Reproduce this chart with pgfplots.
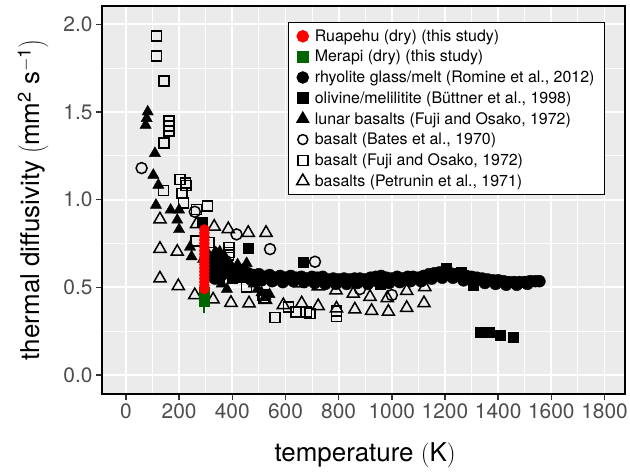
\documentclass[border=0pt]{standalone}
\usepackage{fontspec}
\setmainfont{TeX Gyre Heros}
\usepackage{pgfplots}
\pgfplotsset{compat=1.18}
\definecolor{panelbg}{HTML}{EBEBEB}
\definecolor{tickgrey}{HTML}{4D4D4D}
\definecolor{tickmark}{HTML}{333333}
\definecolor{ruared}{HTML}{FF0000}
\definecolor{merapigreen}{HTML}{006400}
\begin{document}
\begin{tikzpicture}
\useasboundingbox (-102bp,-78bp) rectangle (528bp,394bp);
\begin{axis}[
  scale only axis, width=523bp, height=388bp,
  xmin=-90, xmax=1877, ymin=-0.108, ymax=2.104,
  axis background/.style={fill=panelbg},
  axis line style={black, line width=2.5bp},
  xtick={0,200,...,1800}, ytick={0,0.5,1.0,1.5,2.0},
  minor xtick={100,300,...,1700}, minor ytick={0.25,0.75,1.25,1.75},
  grid=both,
  major grid style={white, line width=1.8bp},
  minor grid style={white, line width=0.9bp},
  tick align=outside, xtick pos=left, ytick pos=left,
  major tick length=6bp, minor tick length=0pt,
  major tick style={tickmark, line width=1.4bp},
  /pgf/number format/assume math mode=true,
  ticklabel style={font=\fontsize{21}{21}\selectfont, text=tickgrey},
  xticklabel style={/pgf/number format/1000 sep={}},
  yticklabel style={/pgf/number format/.cd, fixed, fixed zerofill, precision=1},
  xlabel={temperature \(\left(\mbox{K}\right)\)},
  ylabel={thermal diffusivity \(\left(\mbox{mm\textsuperscript{2} s\textsuperscript{$-$1}}\right)\)},
  label style={font=\fontsize{26}{26}\selectfont},
  xlabel style={at={(axis description cs:0.503,-0.157)}, anchor=center},
  ylabel style={at={(axis description cs:-0.132,0.5)}, anchor=center},
  legend style={at={(axis description cs:0.3556,0.9588)}, anchor=north west,
    fill=white, draw=black, line width=1.5bp,
    font=\fontsize{16}{18}\selectfont, row sep=3.5bp, column sep=4bp, inner xsep=8bp, inner ysep=5bp},
  legend cell align=left,
]
% legend
\addlegendimage{only marks, mark=*, mark size=5.5bp, ruared, mark options={fill=ruared, draw=ruared}}
\addlegendentry{Ruapehu (dry) (this study)}
\addlegendimage{only marks, mark=square*, mark size=5bp, merapigreen, mark options={fill=merapigreen, draw=merapigreen}}
\addlegendentry{Merapi (dry) (this study)}
\addlegendimage{only marks, mark=*, mark size=5.5bp, black}
\addlegendentry{rhyolite glass/melt (Romine et al., 2012)}
\addlegendimage{only marks, mark=square*, mark size=5bp, black}
\addlegendentry{olivine/melilitite (Büttner et al., 1998)}
\addlegendimage{only marks, mark=triangle*, mark size=6.5bp, black}
\addlegendentry{lunar basalts (Fuji and Osako, 1972)}
\addlegendimage{only marks, mark=o, mark size=5bp, black, mark options={line width=1.5bp}}
\addlegendentry{basalt (Bates et al., 1970)}
\addlegendimage{only marks, mark=square, mark size=5bp, black, mark options={line width=1.5bp}}
\addlegendentry{basalt (Fuji and Osako, 1972)}
\addlegendimage{only marks, mark=triangle, mark size=7bp, black, mark options={line width=1.5bp}}
\addlegendentry{basalts (Petrunin et al., 1971)}

% Petrunin et al. 1971 (open triangles)
\addplot[forget plot, only marks, mark=triangle, mark size=7bp, black, mark options={line width=1.5bp}] table {
x y
128 0.888
128 0.720
128 0.551
193 0.703
197 0.507
259 0.456
266 0.861
332 0.846
385 0.832
460 0.811
527 0.811
328 0.431
395 0.412
463 0.409
525 0.428
592 0.399
661 0.409
723 0.393
792 0.380
861 0.374
924 0.366
987 0.361
1056 0.383
1121 0.410
654 0.523
723 0.505
790 0.483
855 0.464
918 0.446
983 0.439
1056 0.480
1124 0.502
420 0.55
500 0.56
560 0.54
};
% Fuji and Osako 1972 basalt (open squares)
\addplot[forget plot, only marks, mark=square, mark size=5bp, black, mark options={line width=1.5bp}] table {
x y
115 1.934
115 1.819
143 1.676
162 1.448
162 1.419
162 1.390
143 1.324
203 1.116
224 1.095
226 1.080
142 1.053
210 1.036
217 0.980
266 0.943
306 0.963
263 0.765
312 0.756
387 0.726
387 0.700
385 0.684
454 0.503
516 0.456
520 0.440
560 0.327
611 0.388
640 0.360
692 0.352
680 0.360
792 0.335
792 0.365
};
% Bates et al. 1970 (open circles)
\addplot[forget plot, only marks, mark=o, mark size=5.5bp, black, mark options={line width=1.5bp}] table {
x y
59 1.180
259 0.931
416 0.802
542 0.718
711 0.646
880 0.490
1000 0.456
};
% lunar basalts (filled triangles)
\addplot[forget plot, only marks, mark=triangle*, mark size=6.5bp, black] table {
x y
82 1.501
78 1.463
74 1.425
109 1.264
103 1.140
122 1.083
113 0.969
168 0.941
200 0.941
193 0.884
200 0.830
241 0.730
247 0.675
341 0.694
353 0.703
290 0.66
310 0.69
320 0.63
335 0.70
340 0.60
350 0.66
360 0.62
370 0.68
380 0.58
390 0.64
400 0.60
410 0.56
420 0.63
430 0.55
445 0.60
454 0.637
465 0.55
480 0.52
495 0.49
510 0.47
525 0.45
540 0.46
380 0.49
360 0.52
};
% olivine/melilitite (filled squares)
\addplot[forget plot, only marks, mark=square*, mark size=5bp, black] table {
x y
285 0.870
460 0.722
667 0.646
955 0.518
1206 0.608
1262 0.589
1306 0.515
1331 0.243
1366 0.243
1409 0.228
1457 0.215
330 0.62
350 0.56
380 0.60
400 0.55
420 0.58
1230 0.58
};
% rhyolite glass/melt (filled circles)
\addplot[forget plot, only marks, mark=*, mark size=6bp, black] table {
x y
315 0.62
320 0.58
325 0.65
330 0.60
335 0.55
340 0.63
345 0.58
350 0.61
360 0.57
365 0.62
370 0.59
380 0.60
390 0.58
400 0.60
410 0.57
420 0.59
430 0.58
440 0.60
450 0.57
460 0.58
480 0.57
500 0.575
520 0.56
540 0.57
560 0.555
580 0.565
600 0.555
620 0.565
640 0.555
660 0.56
680 0.55
700 0.56
720 0.555
740 0.56
760 0.545
780 0.55
800 0.545
820 0.55
840 0.545
860 0.55
880 0.55
900 0.545
920 0.555
940 0.56
960 0.565
980 0.555
1000 0.55
1020 0.56
1040 0.55
1060 0.56
1080 0.56
1100 0.555
1120 0.565
1140 0.575
1160 0.58
1180 0.585
1200 0.585
1220 0.58
1240 0.575
1260 0.57
1280 0.565
1300 0.56
1320 0.555
1340 0.55
1360 0.545
1380 0.54
1400 0.54
1420 0.535
1440 0.53
1460 0.53
1480 0.53
1500 0.53
1520 0.535
1540 0.535
1555 0.535
470 0.545
510 0.54
550 0.535
590 0.53
630 0.535
670 0.53
710 0.525
750 0.52
790 0.52
830 0.52
870 0.525
910 0.52
950 0.53
990 0.525
1030 0.53
1070 0.535
1110 0.535
1150 0.55
1190 0.555
1230 0.555
1270 0.54
1310 0.53
1350 0.525
1390 0.52
1430 0.515
1470 0.515
1510 0.52
};
% Merapi (dry) (this study)
\addplot[forget plot, only marks, mark=square*, mark size=5bp, merapigreen,
  mark options={fill=merapigreen, draw=merapigreen},
  error bars/.cd, y dir=both, y explicit, error bar style={merapigreen, line width=2bp}, error mark=none]
  table[y error=e] {
x y e
295 0.47 0.03
295 0.445 0.04
295 0.42 0.065
};
% Ruapehu (dry) (this study)
\addplot[forget plot, only marks, mark=*, mark size=5bp, ruared,
  mark options={fill=ruared, draw=ruared},
  error bars/.cd, y dir=both, y explicit, error bar style={ruared, line width=2bp}, error mark=none]
  table[y error=e] {
x y e
295 0.49 0.02
295 0.51 0.02
295 0.53 0.02
295 0.55 0.02
295 0.57 0.02
295 0.59 0.02
295 0.61 0.02
295 0.63 0.02
295 0.65 0.02
295 0.67 0.02
295 0.69 0.02
295 0.71 0.02
295 0.73 0.02
295 0.75 0.02
295 0.77 0.02
295 0.79 0.02
295 0.81 0.03
295 0.83 0.045
};
\end{axis}
\end{tikzpicture}
\end{document}
